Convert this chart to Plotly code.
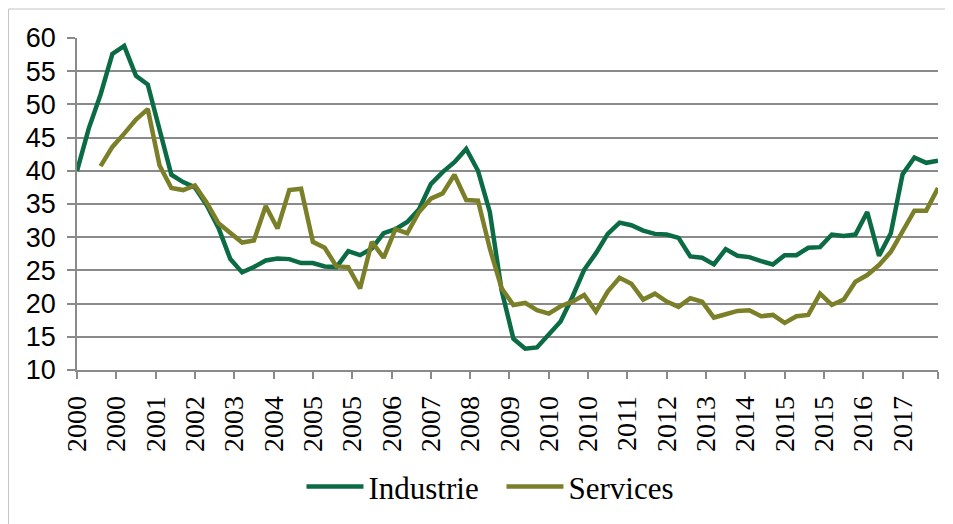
import plotly.graph_objects as go

# Quarterly index (0 = first quarter of 2000)
quarters = list(range(74))

industrie = [40.0, 46.4, 51.5, 57.6, 58.8, 54.3, 53.0, 46.5, 39.4, 38.3,
             37.5, 34.8, 31.4, 26.7, 24.7, 25.5, 26.5, 26.8, 26.7, 26.1,
             26.1, 25.6, 25.5, 27.9, 27.3, 28.3, 30.6, 31.2, 32.3, 34.2,
             38.0, 39.8, 41.3, 43.3, 40.0, 33.8, 22.0, 14.7, 13.2, 13.4,
             15.3, 17.3, 21.0, 25.1, 27.6, 30.5, 32.2, 31.8, 31.0, 30.5,
             30.4, 29.9, 27.1, 26.9, 25.9, 28.2, 27.2, 27.0, 26.4, 25.9,
             27.3, 27.3, 28.4, 28.5, 30.4, 30.2, 30.4, 33.8, 27.2, 30.6,
             39.5, 42.0, 41.2, 41.5]

services = [None, None, 40.7, 43.6, 45.6, 47.7, 49.3, 40.8, 37.4, 37.1,
            37.8, 35.2, 32.1, 30.6, 29.2, 29.5, 34.7, 31.3, 37.1, 37.3,
            29.3, 28.4, 25.6, 25.5, 22.3, 29.3, 26.9, 31.2, 30.6, 33.8,
            35.8, 36.6, 39.4, 35.6, 35.5, 28.3, 22.3, 19.8, 20.1, 19.0,
            18.5, 19.6, 20.3, 21.3, 18.8, 21.8, 23.9, 23.0, 20.6, 21.5,
            20.3, 19.5, 20.8, 20.3, 17.9, 18.4, 18.9, 19.0, 18.1, 18.3,
            17.1, 18.1, 18.3, 21.5, 19.8, 20.6, 23.3, 24.3, 25.8, 27.8,
            30.8, 34.0, 34.0, 37.4]

tick_labels = ["2000", "2000", "2001", "2002", "2003", "2004", "2005", "2005",
               "2006", "2007", "2008", "2009", "2010", "2010", "2011", "2012",
               "2013", "2014", "2015", "2015", "2016", "2017"]

# ticks every 10 months (= 10/3 quarters), plus the axis-end tick
tick_vals = [k * 10 / 3 for k in range(len(tick_labels))] + [73]
tick_text = tick_labels + [""]

GREEN = "#0B6B45"
OLIVE = "#7A7F28"
GRID = "#8A8A8A"

fig = go.Figure()
fig.add_trace(go.Scatter(x=quarters, y=industrie, name="Industrie", mode="lines",
                         line=dict(color=GREEN, width=4.5), connectgaps=False))
fig.add_trace(go.Scatter(x=quarters, y=services, name="Services", mode="lines",
                         line=dict(color=OLIVE, width=4.5), connectgaps=False))

fig.update_layout(
    width=953, height=524,
    margin=dict(l=69, r=23, t=30, b=162),
    paper_bgcolor="white", plot_bgcolor="white",
    showlegend=True,
    legend=dict(orientation="h", x=0.493, xanchor="center", y=-0.352, yanchor="middle",
                itemwidth=57, entrywidth=128,
                font=dict(family="Liberation Serif, Times New Roman, serif", size=31, color="black"),
                bgcolor="rgba(0,0,0,0)"),
    xaxis=dict(range=[0, 73], tickmode="array", tickvals=tick_vals, ticktext=tick_text,
               tickangle=-90, showgrid=False, zeroline=False,
               showline=True, linecolor=GRID, linewidth=1.5,
               ticks="outside", ticklen=7, tickwidth=1.5, tickcolor=GRID,
               ticklabelstandoff=6,
               tickfont=dict(family="Liberation Serif, Times New Roman, serif", size=28, color="black")),
    yaxis=dict(range=[10, 60], dtick=5, tick0=10, showgrid=True, gridcolor=GRID, gridwidth=1.5,
               zeroline=False, showline=True, linecolor=GRID, linewidth=1.5,
               ticks="outside", ticklen=8, tickwidth=1.5, tickcolor=GRID,
               ticklabelstandoff=6,
               tickfont=dict(family="Liberation Sans, Arial, sans-serif", size=27, color="black")),
    shapes=[
        dict(type="line", xref="paper", yref="paper", x0=-0.0795, x1=1.05, y0=1.0873, y1=1.0873,
             line=dict(color="#C4C4C4", width=1)),
        dict(type="line", xref="paper", yref="paper", x0=-0.0795, x1=-0.0795, y0=1.0873, y1=-0.5,
             line=dict(color="#C4C4C4", width=1)),
    ],
)

fig.write_html("out.html")
